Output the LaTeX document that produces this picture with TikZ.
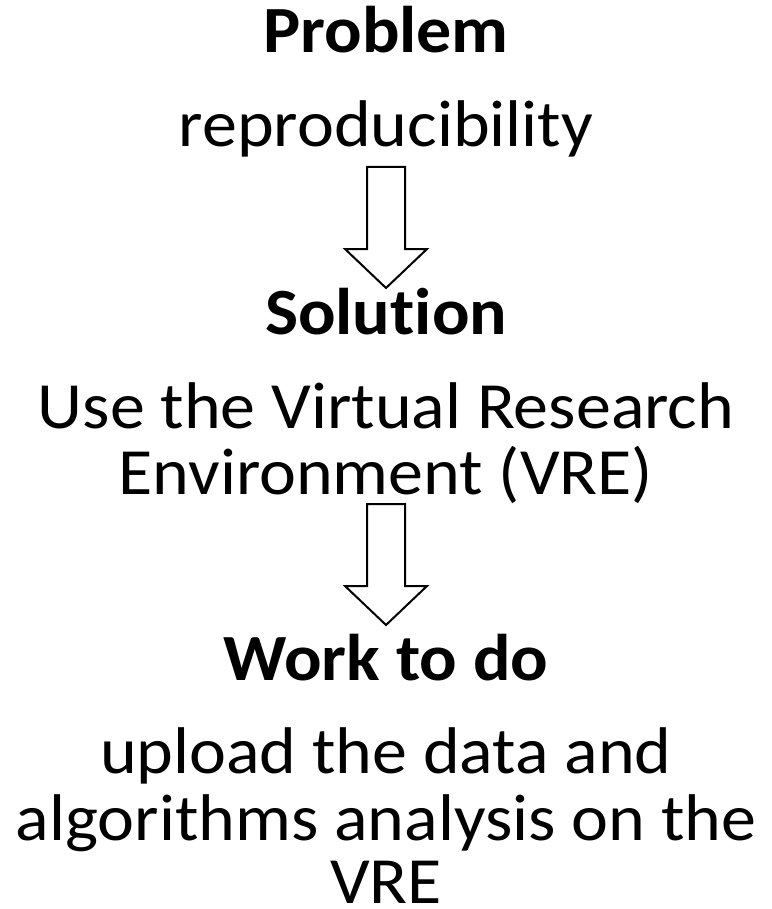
\documentclass[tikz,border=0pt]{standalone}
\usepackage{fontspec}
\setmainfont[Ligatures=NoCommon, FakeStretch=1.06]{Carlito}
\begin{document}
\begin{tikzpicture}[x=1pt,y=-1pt,
  title/.style={font=\fontsize{66}{66}\selectfont\bfseries, anchor=base, inner sep=0pt},
  body/.style={font=\fontsize{66}{66}\selectfont, anchor=base, inner sep=0pt},
  blockarrow/.style={draw=black, line width=2pt, fill=white, line join=miter}]
\useasboundingbox (0,0) rectangle (771,909);

% Problem
\node[title] (problem) at (386,53) {Problem};
\node[body] (repro) at (386,147) {reproducibility};

% Solution
\node[title] (solution) at (386,334) {Solution};
\node[body] (sol1) at (386,428) {Use the Virtual Research};
\node[body] (sol2) at (386,494) {Environment (VRE)};

% Work to do
\node[title] (work) at (386,680) {Work to do};
\node[body] (work1) at (386,773) {upload the data and};
\node[body] (work2) at (386,840) {algorithms analysis on the};
\node[body] (work3) at (386,903) {VRE};

% Block arrows between the sections
\coordinate (a1) at (386,167);
\coordinate (a2) at (386,504);
\foreach \c in {a1,a2}{
  \draw[blockarrow] (\c) ++(-19,0) -- ++(38,0) -- ++(0,82) -- ++(22,0)
    -- ++(-41,39) -- ++(-41,-39) -- ++(22,0) -- cycle;
}
\end{tikzpicture}
\end{document}
